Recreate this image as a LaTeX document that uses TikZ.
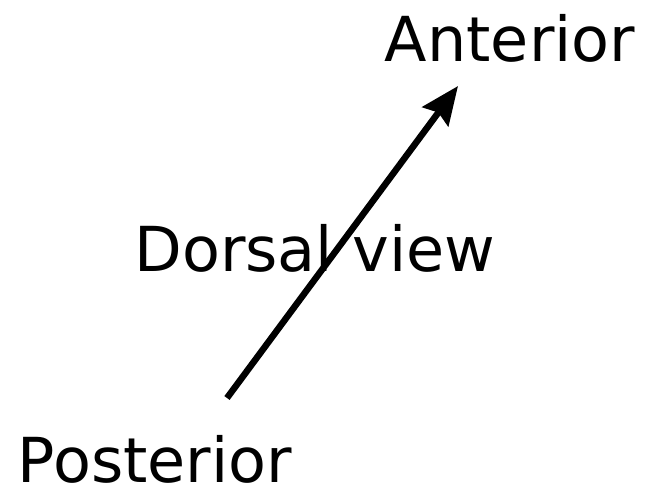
\documentclass[tikz,border=0pt]{standalone}
\usepackage{fontspec}
\setmainfont{DejaVu Sans}
\usetikzlibrary{arrows.meta}
\tikzset{
  label text/.style={anchor=base, inner sep=0pt, font=\fontsize{62}{74}\selectfont},
  axis arrow/.style={line width=6.5pt, -{Stealth[length=38pt, width=32pt, inset=5pt]}}
}

\begin{document}
\begin{tikzpicture}[x=1pt, y=1pt]
      \useasboundingbox (0,0) rectangle (648,496);

      \coordinate (tail) at (227,98);
      \coordinate (head) at (458,410);

      \node[label text] (dorsal) at (315,224) {Dorsal view};
      \node[label text] (anterior) at (510,434) {Anterior};
      \node[label text] (posterior) at (155,14) {Posterior};

      \draw[axis arrow] (tail) -- (head);
    \end{tikzpicture}
\end{document}
